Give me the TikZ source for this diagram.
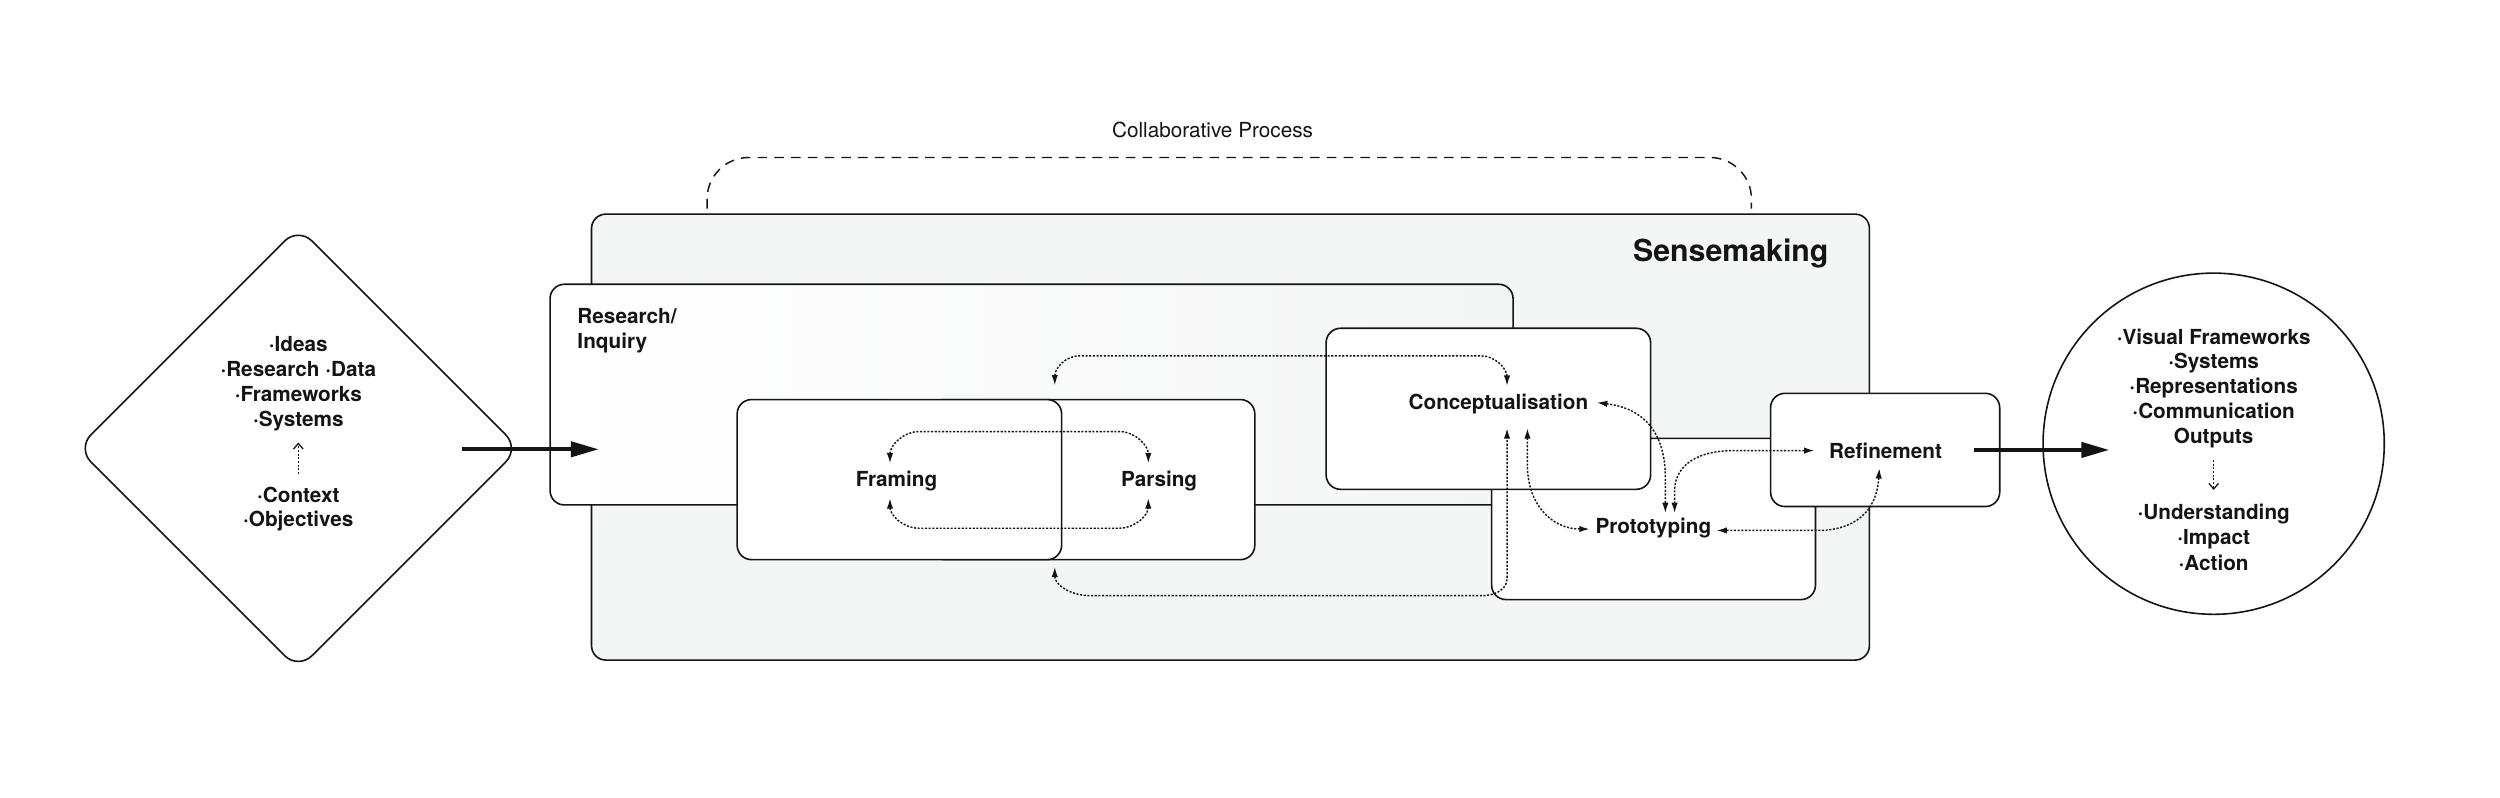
\documentclass[tikz,border=0pt]{standalone}
\usepackage{fontspec}
\setmainfont{TeX Gyre Heros}
\usetikzlibrary{shapes.geometric,arrows.meta,calc}
\definecolor{sensegray}{RGB}{244,245,245}
\definecolor{ink}{RGB}{20,20,20}
\begin{document}
\begin{tikzpicture}[x=1pt,y=-1pt,
  box/.style={draw=ink, line width=1pt, rounded corners=9pt, fill=white, inner sep=0pt},
  lbl/.style={font=\fontsize{13}{15.7}\selectfont\bfseries, inner sep=0pt, text height=9.3pt, text depth=0pt, text=ink},
  grp/.style={font=\fontsize{13}{15.7}\selectfont\bfseries, inner sep=0pt, align=center, anchor=north, text=ink},
  conn/.style={draw=ink, line width=0.9pt, dash pattern=on 1.3pt off 1pt, {Latex[length=6.5pt,width=4pt]}-{Latex[length=6.5pt,width=4pt]}},
  smallarr/.style={draw=ink, line width=0.8pt, dash pattern=on 1.3pt off 1pt, -{Straight Barb[length=3.5pt,width=6pt]}},
  bigarrow/.style={draw=ink, line width=2.4pt, -{Triangle[length=17.5pt,width=9.5pt]}},
]
\useasboundingbox (0,0) rectangle (1568,500);
\fill[white] (0,0) rectangle (1568,500);

% outer shapes
\node[draw=ink, line width=1pt, diamond, aspect=1, minimum width=277.6pt, minimum height=277.6pt, inner sep=0pt, rounded corners=12pt] (dia) at (187.1,281.2) {};
\node[draw=ink, line width=1pt, circle, minimum size=214pt, inner sep=0pt] (out) at (1388.4,278.3) {};

% boxes
\node[box, fill=sensegray, minimum width=801.5pt, minimum height=279.7pt] (sense) at (771.75,274.15) {};
\node[box, left color=white, middle color=white, right color=sensegray, minimum width=604pt, minimum height=138.4pt] (res) at (647,247.5) {};
\node[box, minimum width=203.5pt, minimum height=100.4pt] (parbox) at (685.25,300.8) {};
\node[box, minimum width=203.5pt, minimum height=100.4pt] (frabox) at (564.1,300.8) {};
\node[box, minimum width=203.1pt, minimum height=101.1pt] (probox) at (1037.1,325.5) {};
\node[box, minimum width=203.5pt, minimum height=101pt] (conbox) at (933.5,256.4) {};
\node[box, minimum width=143.7pt, minimum height=71pt] (refbox) at (1182.35,282.2) {};

% titles
\node[font=\fontsize{19}{22}\selectfont\bfseries, anchor=base east, inner sep=0pt, text=ink] (title) at (1147,164.2) {Sensemaking};
\node[font=\fontsize{13}{15.7}\selectfont, inner sep=0pt, text height=9.3pt, text depth=0pt, text=ink] (collab) at (760.5,81.4) {Collaborative Process};
\draw[ink, line width=0.9pt, dash pattern=on 6pt off 4.5pt, rounded corners=26pt]
  ($(sense.north west)+(73,-3)$) -- ++(0,-32) -| ($(sense.north west)+(728,-3)$);
\node[grp, font=\fontsize{13}{15.1}\selectfont\bfseries, anchor=north west, align=left] (resl) at (362,193.5) {Research/\\Inquiry};

% stage labels
\node[lbl] (fram) at (562.3,300.7) {Framing};
\node[lbl] (pars) at (727,300.7) {Parsing};
\node[lbl] (conc) at (939.8,252) {Conceptualisation};
\node[lbl] (prot) at (1037,329.8) {Prototyping};
\node[lbl] (refi) at (1182.6,283.2) {Refinement};

% diamond text
\node[grp] (ideas) at (187.1,210.9) {·Ideas\\·Research ·Data\\·Frameworks\\·Systems};
\node[grp, font=\fontsize{13}{15.3}\selectfont\bfseries] (ctx) at (187.1,305.1) {·Context\\·Objectives};
\draw[smallarr] ($(ctx.north)+(0,-7.8)$) -- ($(ideas.south)+(0,6.8)$);

% circle text
\node[grp, font=\fontsize{13}{15.6}\selectfont\bfseries] (outs) at (1388.4,205.9) {·Visual Frameworks\\·Systems\\·Representations\\·Communication\\Outputs};
\node[grp, font=\fontsize{13}{16}\selectfont\bfseries] (effs) at (1388.4,315.8) {·Understanding\\·Impact\\·Action};
\draw[smallarr] ($(outs.south)+(0,7.3)$) -- ($(effs.north)+(0,-8.5)$);

% main arrows
\coordinate (la) at (res.west |- dia.center);
\draw[bigarrow] ($(dia.center)+(102.9,0.6)$) -- ($(la)+(31,0.6)$);
\coordinate (ra) at (out.west |- refbox.center);
\draw[bigarrow] ($(refbox.east)+(-16.5,0)$) -- ($(ra)+(42,0)$);

% dotted connectors
\draw[conn] ($(fram.center)+(-4.1,-10.1)$) .. controls +(0,-11) and +(-10,0) .. (576.2,270.7) -- (702.2,270.7) .. controls +(10,0) and +(0,-11) .. ($(pars.center)+(-6.8,-10.1)$);
\draw[conn] ($(fram.center)+(-4.1,11.8)$) .. controls +(0,10.3) and +(-10,0) .. (576.2,331.3) -- (702.2,331.3) .. controls +(10,0) and +(0,10.3) .. ($(pars.center)+(-6.8,11.8)$);
\draw[conn] ($(frabox.north east)+(-4.8,-8.4)$) .. controls +(0,-10.5) and +(-9,0) .. (677,223.2) -- (929,223.2) .. controls +(9,0) and +(0,-10.5) .. ($(conc.center)+(5.4,-10)$);
\draw[conn] ($(frabox.south east)+(-4.8,4)$) .. controls +(0,11) and +(-13,0) .. (684,373.6) -- (929,373.6) .. controls +(10,0) and +(0,6) .. (945.2,363) -- ($(conc.center)+(5.4,16.6)$);
\draw[conn] ($(conc.center)+(18.2,16.6)$) -- (958,292) .. controls (958,316) and (973,331.8) .. ($(prot.center)+(-40,2)$);
\draw[conn] ($(conc.center)+(61.8,0.5)$) .. controls (1030,256) and (1044.5,270) .. (1044.5,300) -- ($(prot.center)+(7.5,-8)$);
\draw[conn] ($(prot.center)+(13.3,-8)$) -- (1050.3,308) .. controls (1050.3,295) and (1060,282.6) .. (1088,282.6) -- ($(refi.center)+(-44.6,-0.6)$);
\draw[conn] ($(refi.center)+(-3.9,10.4)$) .. controls (1177,322) and (1162,332.7) .. (1140,332.7) -- ($(prot.center)+(39.6,2.9)$);
\end{tikzpicture}
\end{document}
